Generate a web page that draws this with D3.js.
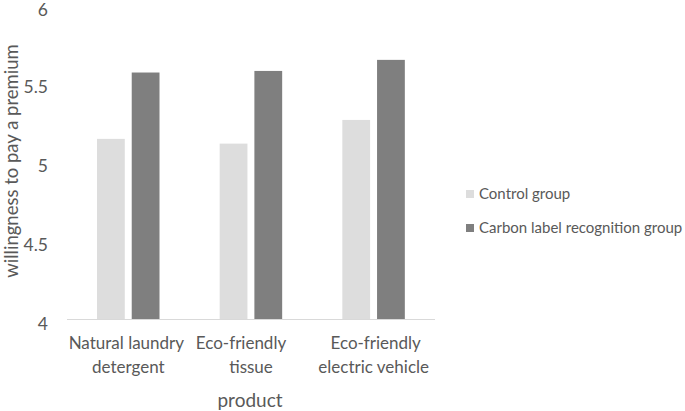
<!DOCTYPE html>
<html><head><meta charset="utf-8">
<script src="https://cdn.jsdelivr.net/npm/d3@7"></script>
<style>body{margin:0;background:#fff}svg{display:block}text{font-family:Lato,"Open Sans",sans-serif;fill:#595959}</style>
</head><body><svg id="c" width="685" height="411"></svg>
<script>
const categories = [["Natural laundry","detergent"],["Eco-friendly","tissue"],["Eco-friendly","electric vehicle"]];
const seriesNames = ["Control group","Carbon label recognition group"];
const controlValues = [5.14, 5.11, 5.26];
const carbonValues = [5.56, 5.57, 5.64];
const yTicks = [4, 4.5, 5, 5.5, 6];
const colors = ["#dddddd", "#7f7f7f"];

const svg = d3.select("#c");
const m = {left: 67, right: 435, top: 3, bottom: 319};
const catIdx = d3.range(categories.length);
const x0 = d3.scaleBand().domain(catIdx).range([m.left, m.right]);
const x1 = d3.scaleBand().domain(d3.range(2)).range([30, 92.5]).paddingInner(0.2);
const y = d3.scaleLinear().domain([4, 6]).range([m.bottom, m.top]);

const data = catIdx.map(i => [controlValues[i], carbonValues[i]]);
const g = svg.append("g");
g.selectAll("g").data(data).join("g")
  .attr("transform", (d, i) => `translate(${x0(i)},0)`)
  .selectAll("rect").data(d => d).join("rect")
  .attr("x", (d, j) => x1(j)).attr("width", x1.bandwidth())
  .attr("y", d => y(d)).attr("height", d => y(4) - y(d))
  .attr("fill", (d, j) => colors[j]);

// baseline
svg.append("line").attr("x1", m.left).attr("x2", m.right)
  .attr("y1", y(4) + 0.5).attr("y2", y(4) + 0.5).attr("stroke", "#d9d9d9").attr("stroke-width", 1);

// y axis
const ya = svg.append("g").attr("transform", `translate(${m.left},0)`)
  .call(d3.axisLeft(y).tickValues(yTicks).tickFormat(d3.format("")).tickSize(0).tickPadding(19));
ya.select(".domain").remove();
ya.selectAll("text").attr("font-size", 17.5).style("font-family", "Lato,'Open Sans',sans-serif").attr("fill", "#595959")
  .attr("dy", d => d === 6 ? "0.7em" : "0.6em");

// x axis labels
const xa = svg.append("g").attr("transform", `translate(0,${y(4)})`)
  .call(d3.axisBottom(x0).tickSize(0).tickFormat(""));
xa.select(".domain").remove();
xa.selectAll(".tick").each(function(i) {
  const t = d3.select(this).append("text").attr("text-anchor", "middle")
    .attr("font-size", 17).attr("fill", "#595959")
    .attr("dx", i === 1 ? -10 : (i === 0 ? -2 : 2));
  categories[i].forEach((line, k) => t.append("tspan").attr("x", 0).attr("y", 30 + k * 24).text(line));
});

// axis titles
svg.append("text").attr("x", 250).attr("y", 407).attr("text-anchor", "middle").attr("font-size", 19).text("product");
svg.append("text").attr("transform", "translate(18,161) rotate(-90)").attr("text-anchor", "middle").attr("font-size", 18.5).text("willingness to pay a premium");

// legend
const lg = svg.append("g").attr("transform", "translate(466,194)");
seriesNames.forEach((s, i) => {
  const r = lg.append("g").attr("transform", `translate(0,${i * 34})`);
  r.append("rect").attr("x", 0).attr("y", -4).attr("width", 8).attr("height", 8).attr("fill", colors[i]);
  r.append("text").attr("x", 13).attr("y", 0).attr("dy", "0.35em").attr("font-size", 15).text(s);
});
</script></body></html>
